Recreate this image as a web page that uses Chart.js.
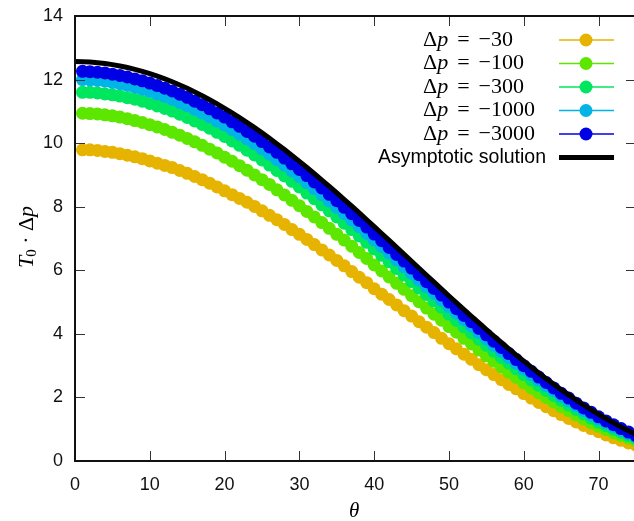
<!DOCTYPE html>
<html>
<head>
<meta charset="utf-8">
<script src="https://cdn.jsdelivr.net/npm/chart.js@4.4.1/dist/chart.umd.min.js"></script>
<style>
html,body{margin:0;padding:0;background:#fff;overflow:hidden}
#wrap{width:634px;height:521px;overflow:hidden;position:relative}
#wrap canvas{position:absolute;left:0;top:0}
</style>
</head>
<body>
<div id="wrap"><canvas id="chart" width="640" height="521"></canvas></div>
<script>
// DATA
var thetaDeg = [1,2,3,4,5,6,7,8,9,10,11,12,13,14,15,16,17,18,19,20,21,22,23,24,25,26,27,28,29,30,
31,32,33,34,35,36,37,38,39,40,41,42,43,44,45,46,47,48,49,50,51,52,53,54,55,56,57,58,59,60,
61,62,63,64,65,66,67,68,69,70,71,72,73,74,75];

var thetaAsym = [0,1,2,3,4,5,6,7,8,9,10,11,12,13,14,15,16,17,18,19,20,21,22,23,24,25,26,27,28,29,30,
31,32,33,34,35,36,37,38,39,40,41,42,43,44,45,46,47,48,49,50,51,52,53,54,55,56,57,58,59,60,
61,62,63,64,65,66,67,68,69,70,71,72,73,74,75];

var dp30 = [9.79,9.79,9.77,9.74,9.71,9.67,9.62,9.57,9.51,9.44,
9.37,9.30,9.23,9.14,9.05,8.95,8.85,8.74,8.62,8.50,
8.38,8.26,8.14,8.01,7.87,7.73,7.59,7.44,7.28,7.13,
6.97,6.81,6.64,6.48,6.31,6.14,5.96,5.78,5.61,5.42,
5.25,5.08,4.91,4.73,4.56,4.38,4.21,4.04,3.86,3.69,
3.53,3.36,3.20,3.03,2.87,2.72,2.56,2.41,2.27,2.12,
1.98,1.84,1.71,1.58,1.46,1.34,1.23,1.12,1.02,0.92,
0.82,0.73,0.65,0.57,0.50];

var dp100 = [10.94,10.93,10.92,10.89,10.86,10.82,10.77,10.71,10.65,10.58,
10.51,10.43,10.34,10.25,10.15,10.04,9.93,9.81,9.69,9.56,
9.43,9.29,9.15,9.00,8.85,8.70,8.53,8.37,8.20,8.03,
7.85,7.68,7.50,7.32,7.13,6.95,6.76,6.56,6.37,6.17,
5.98,5.79,5.59,5.40,5.20,5.01,4.81,4.62,4.43,4.23,
4.05,3.86,3.68,3.49,3.31,3.14,2.96,2.79,2.63,2.46,
2.30,2.15,2.00,1.86,1.71,1.58,1.45,1.32,1.20,1.09,
0.99,0.89,0.80,0.72,0.64];

var dp300 = [11.60,11.60,11.58,11.55,11.52,11.48,11.43,11.38,11.32,11.25,
11.17,11.09,11.01,10.91,10.81,10.70,10.59,10.47,10.34,10.21,
10.07,9.93,9.78,9.63,9.47,9.31,9.14,8.97,8.80,8.62,
8.43,8.25,8.06,7.87,7.68,7.48,7.28,7.08,6.88,6.67,
6.47,6.27,6.06,5.85,5.65,5.44,5.24,5.03,4.83,4.62,
4.42,4.22,4.03,3.83,3.64,3.45,3.26,3.08,2.90,2.72,
2.55,2.38,2.22,2.06,1.91,1.76,1.62,1.48,1.35,1.22,
1.11,1.00,0.90,0.80,0.71];

var dp1000 = [12.00,11.99,11.97,11.95,11.91,11.87,11.82,11.76,11.70,11.63,
11.55,11.47,11.38,11.28,11.18,11.07,10.95,10.83,10.70,10.57,
10.43,10.28,10.13,9.98,9.82,9.65,9.48,9.31,9.13,8.95,
8.76,8.57,8.38,8.18,7.98,7.78,7.58,7.37,7.16,6.95,
6.75,6.54,6.33,6.11,5.90,5.69,5.48,5.27,5.06,4.85,
4.65,4.44,4.24,4.04,3.84,3.64,3.45,3.26,3.07,2.89,
2.71,2.54,2.37,2.21,2.04,1.89,1.74,1.59,1.45,1.32,
1.20,1.08,0.97,0.86,0.76];

var dp3000 = [12.26,12.25,12.23,12.21,12.17,12.13,12.08,12.02,11.96,11.89,
11.81,11.73,11.64,11.54,11.44,11.32,11.21,11.08,10.95,10.82,
10.67,10.53,10.37,10.22,10.05,9.88,9.71,9.53,9.35,9.17,
8.98,8.78,8.59,8.39,8.19,7.98,7.78,7.57,7.36,7.14,
6.93,6.72,6.50,6.29,6.07,5.86,5.64,5.43,5.22,5.00,
4.79,4.58,4.38,4.17,3.97,3.77,3.57,3.38,3.19,3.00,
2.82,2.64,2.47,2.30,2.13,1.98,1.82,1.67,1.53,1.39,
1.26,1.14,1.02,0.91,0.80];

var asymptotic = [12.566,12.562,12.551,12.532,12.505,12.471,12.429,12.380,12.323,12.259,12.187,
12.109,12.023,11.930,11.831,11.725,11.612,11.492,11.366,11.234,11.096,
10.952,10.803,10.648,10.487,10.322,10.151,9.976,9.797,9.613,9.425,
9.233,9.038,8.839,8.637,8.432,8.225,8.015,7.803,7.590,7.374,
7.158,6.940,6.722,6.502,6.283,6.064,5.845,5.626,5.409,5.192,
4.977,4.763,4.551,4.342,4.134,3.929,3.728,3.529,3.333,3.142,
2.954,2.770,2.590,2.415,2.244,2.079,1.919,1.763,1.614,1.470,
1.332,1.200,1.074,0.955,0.842];

var seriesLabels = ["Δp = −30","Δp = −100","Δp = −300","Δp = −1000","Δp = −3000"];
var seriesColors = ["#e6b400","#5de600","#00e65e","#00b4e6","#0000e6"];
var asymLabel = "Asymptotic solution";

var xTicks = [0,10,20,30,40,50,60,70];
var yTicks = [0,2,4,6,8,10,12,14];

// -----------------------------
function pts(xs, ys){ return xs.map(function(t,i){ return {x:t, y:ys[i]}; }); }

var allSeries = [dp30, dp100, dp300, dp1000, dp3000];

var datasets = [];
allSeries.forEach(function(vals, i){
datasets.push({
label: seriesLabels[i],
data: pts(thetaDeg, vals),
borderColor: seriesColors[i],
backgroundColor: seriesColors[i],
borderWidth: 1,
pointRadius: 6.5,
pointHoverRadius: 6.5,
pointBorderWidth: 0,
pointBackgroundColor: seriesColors[i],
order: 5 - i
});
});

datasets.push({
label: asymLabel,
data: pts(thetaAsym, asymptotic),
borderColor: "#000",
borderWidth: 5,
pointRadius: 0,
order: 0
});

var serif = '"Liberation Serif", serif';
var sans = '"Liberation Sans", Arial, sans-serif';

function drawParts(ctx, parts, x, y){
parts.forEach(function(p){
ctx.font = p[1];
ctx.fillText(p[0], x + (p[3] || 0), y + (p[2] || 0));
x += ctx.measureText(p[0]).width + (p[3] || 0) + (p[4] || 0);
});
return x;
}
function partsWidth(ctx, parts){
var w = 0;
parts.forEach(function(p){ ctx.font = p[1]; w += ctx.measureText(p[0]).width + (p[3] || 0) + (p[4] || 0); });
return w;
}

// -----------------------------
// frame, inward ticks, axis titles and gnuplot-like key
var decor = {
id: "decor",
afterDraw: function(chart){
var ctx = chart.ctx, a = chart.chartArea;
var x = chart.scales.x, y = chart.scales.y;
ctx.save();

ctx.strokeStyle = "#333";
ctx.lineWidth = 1;
ctx.beginPath();
xTicks.forEach(function(v){
var px = Math.round(x.getPixelForValue(v)) + 0.5;
ctx.moveTo(px, a.bottom); ctx.lineTo(px, a.bottom - 10);
ctx.moveTo(px, a.top); ctx.lineTo(px, a.top + 10);
});
yTicks.forEach(function(v){
var py = Math.round(y.getPixelForValue(v)) + 0.5;
ctx.moveTo(a.left, py); ctx.lineTo(a.left + 10, py);
ctx.moveTo(a.right, py); ctx.lineTo(a.right - 10, py);
});
ctx.stroke();

ctx.strokeStyle = "#111";
ctx.lineWidth = 2;
ctx.strokeRect(a.left, a.top, a.right - a.left, a.bottom - a.top);

ctx.fillStyle = "#000";
ctx.textBaseline = "middle";
ctx.textAlign = "left";

// x title
drawParts(ctx, [["θ", "italic 21px " + serif]], 349, 511);

// y title
var yt = [["T", "italic 22px " + serif], ["0", "15px " + serif, 5, -1, 0], [" · ", "22px " + serif], ["Δ", "22px " + serif], ["p", "italic 22px " + serif]];
ctx.save();
ctx.translate(27, 237);
ctx.rotate(-Math.PI / 2);
drawParts(ctx, yt, -partsWidth(ctx, yt) / 2, 0);
ctx.restore();

// key
var rowY = 40, rowStep = 23.5;
for (var i = 0; i < seriesLabels.length; i++){
var yy = rowY + i * rowStep;
var lab = seriesLabels[i];
var eq = lab.slice(2).trim().split(" ");
drawParts(ctx, [
[lab[0], "22px " + serif],
[lab[1], "italic 22px " + serif, 0, 0, 9],
[eq[0], "22px " + serif, 0, 0, 9],
[eq[1], "22px " + serif]
], 423, yy);
ctx.strokeStyle = seriesColors[i];
ctx.lineWidth = 1.3;
ctx.beginPath(); ctx.moveTo(559, yy); ctx.lineTo(614, yy); ctx.stroke();
ctx.fillStyle = seriesColors[i];
ctx.beginPath(); ctx.arc(586, yy, 6.5, 0, Math.PI * 2); ctx.fill();
ctx.fillStyle = "#000";
}
var ay = rowY + seriesLabels.length * rowStep;
ctx.font = "19.5px " + sans;
ctx.textAlign = "right";
ctx.fillText(asymLabel, 546, ay);
ctx.strokeStyle = "#000";
ctx.lineWidth = 5;
ctx.beginPath(); ctx.moveTo(559, ay); ctx.lineTo(614, ay); ctx.stroke();

ctx.restore();
}
};

// -----------------------------
var chart = new Chart(document.getElementById("chart"), {
type: "line",
data: { datasets: datasets },
options: {
responsive: false,
animation: false,
events: [],
layout: { autoPadding: false, padding: { top: 16, right: 4, left: 0, bottom: 0 } },
plugins: { legend: { display: false }, tooltip: { enabled: false } },
scales: {
x: {
type: "linear",
min: 0, max: 75,
grid: { display: false, drawTicks: false },
border: { display: false },
afterBuildTicks: function(s){ s.ticks = xTicks.map(function(v){ return {value: v}; }); },
afterFit: function(s){ s.height = 60; s.paddingLeft = 0; s.paddingRight = 0; },
ticks: { font: { family: sans, size: 18 }, color: "#111", padding: 13, maxRotation: 0 }
},
y: {
min: 0, max: 14,
grid: { display: false, drawTicks: false },
border: { display: false },
afterBuildTicks: function(s){ s.ticks = yTicks.map(function(v){ return {value: v}; }); },
afterFit: function(s){ s.width = 75; s.paddingTop = 0; s.paddingBottom = 0; },
ticks: { font: { family: sans, size: 18 }, color: "#111", padding: 12 }
}
}
},
plugins: [decor]
});
</script>
</body>
</html>
